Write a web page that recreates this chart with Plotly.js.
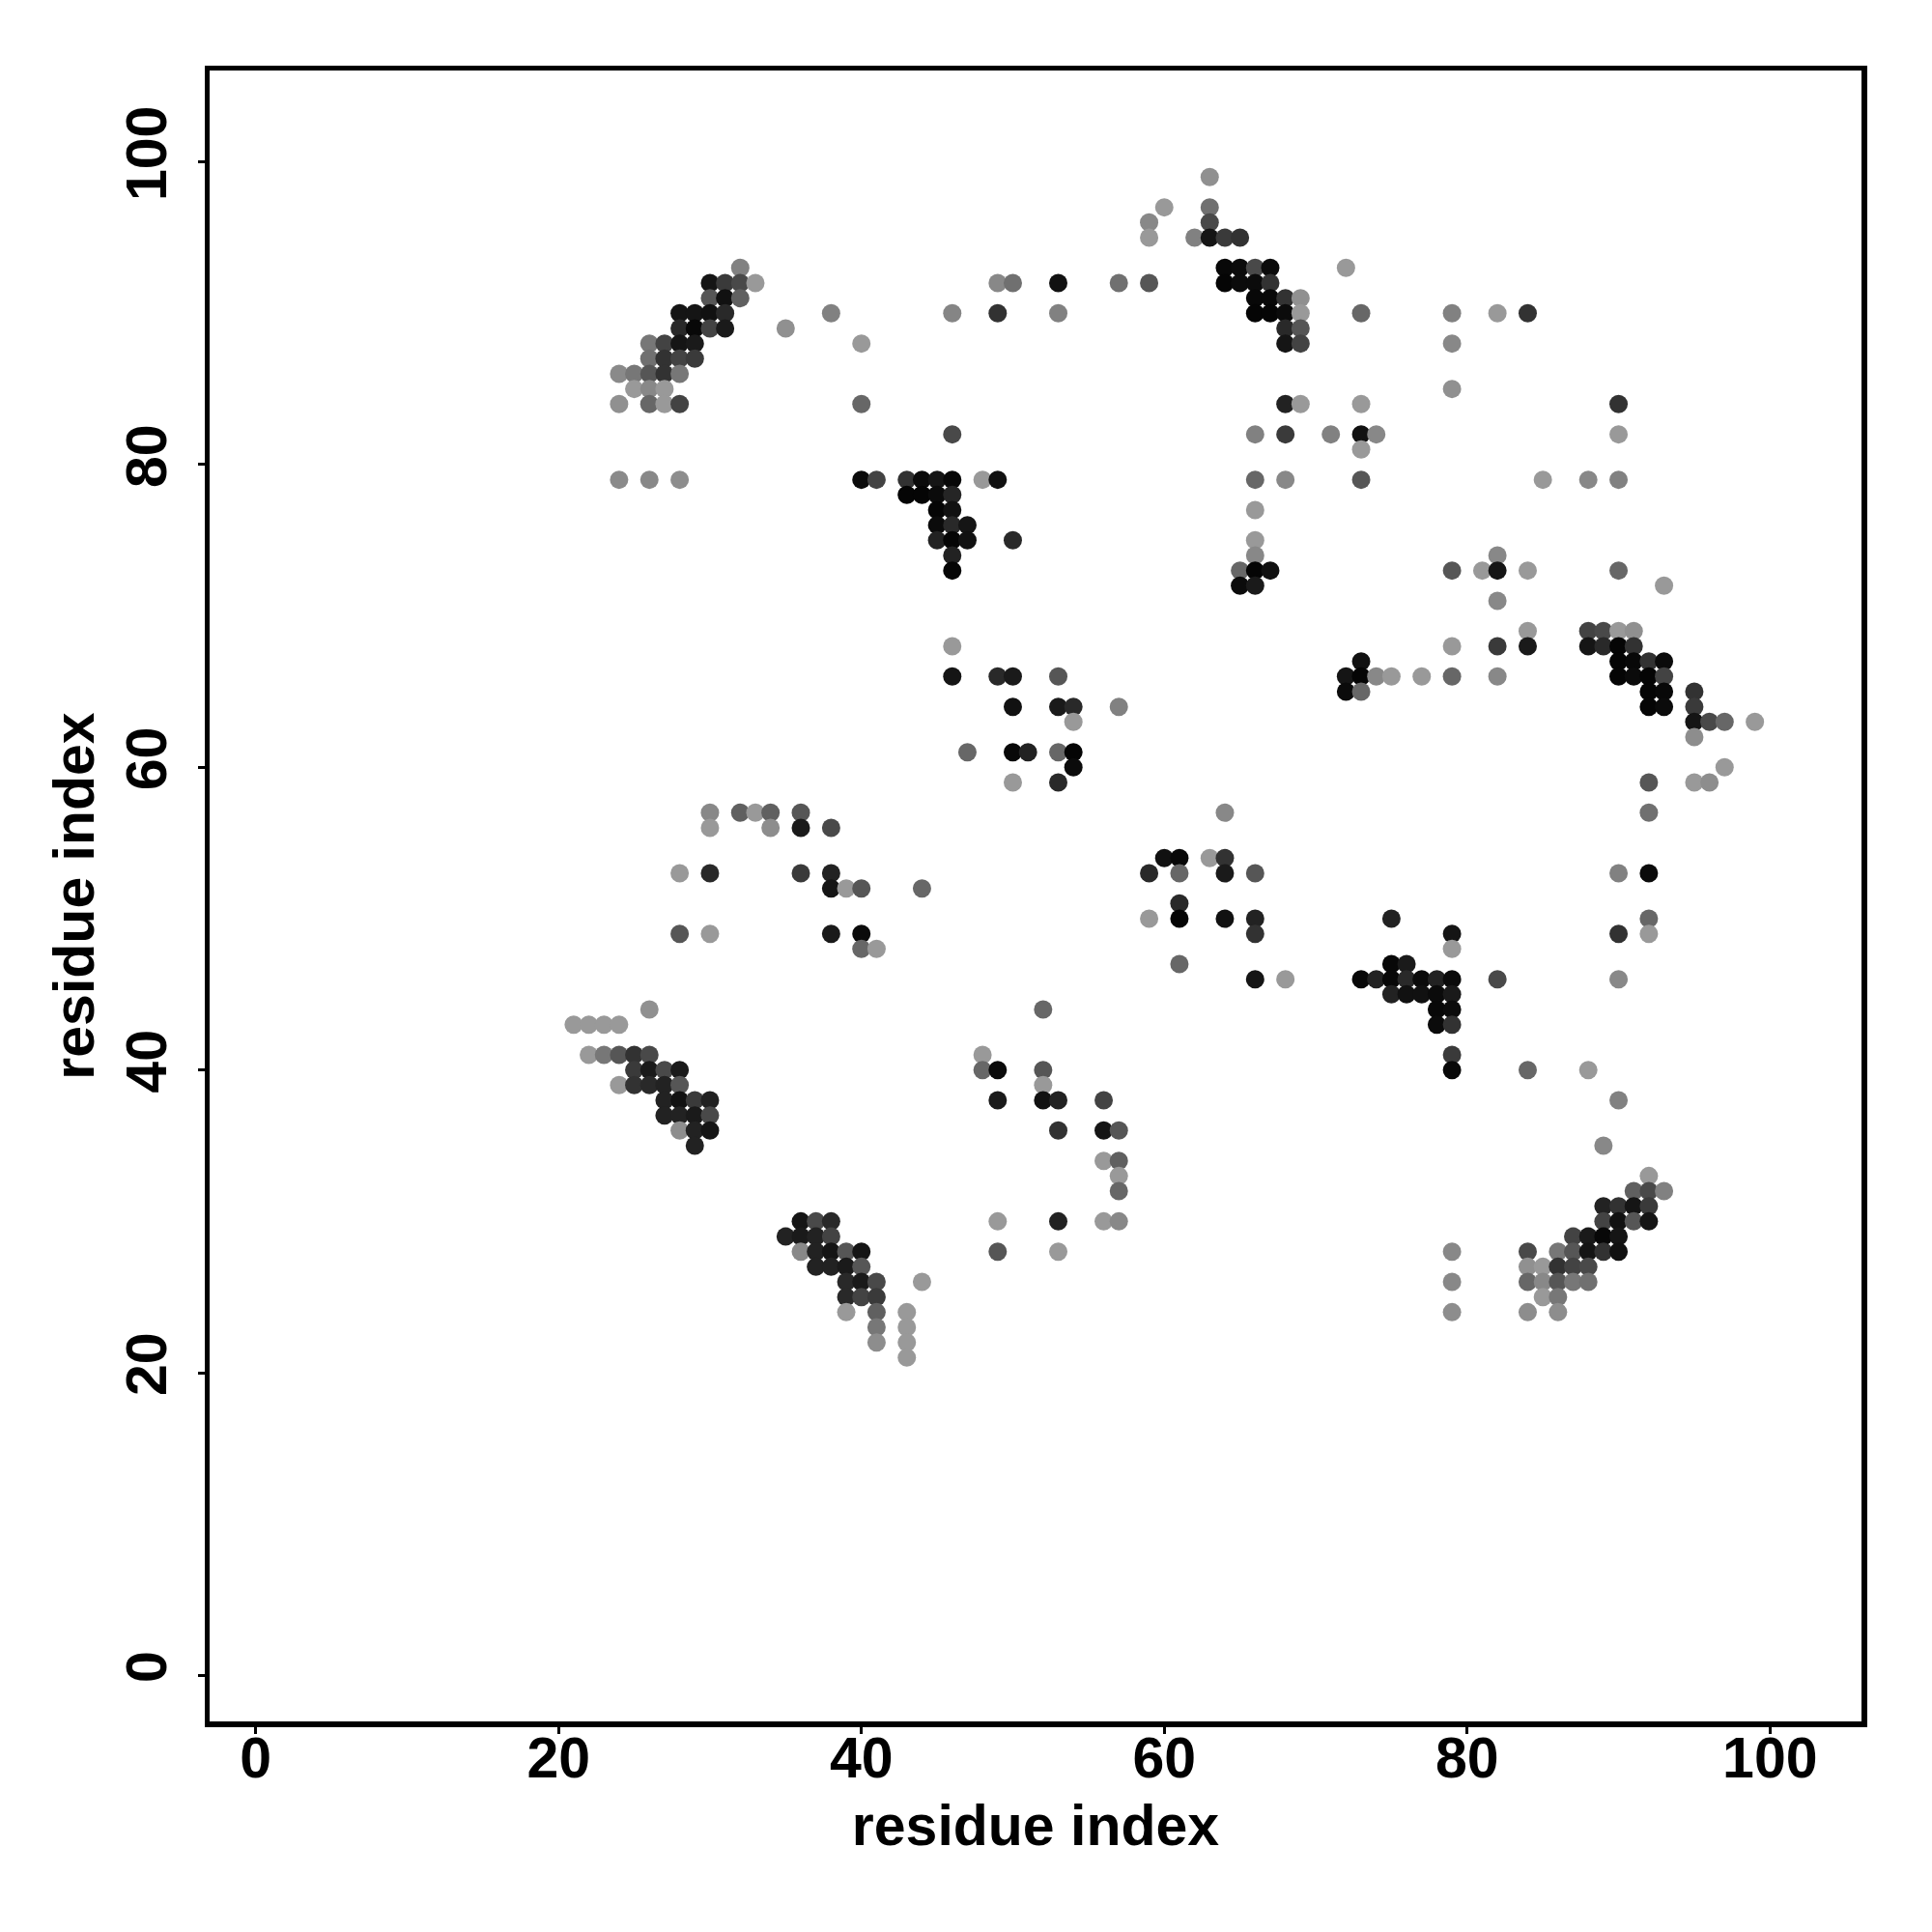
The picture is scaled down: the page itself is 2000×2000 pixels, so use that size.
<!DOCTYPE html>
<html>
<head>
<meta charset="utf-8">
<script src="https://cdn.plot.ly/plotly-3.0.1.min.js"></script>
<style>html,body{margin:0;padding:0;background:#fff;}</style>
</head>
<body>
<div id="chart" style="width:2000px;height:2000px;"></div>
<script>
// Contact map: for each row (residue index j), the partner residues i and contact scores (0 = weak/light, 1 = strong/black)
const rowIndex = [99,97,96,95,93,92,91,90,89,88,87,86,85,84,82,81,79,78,77,76,75,74,73,72,71,69,68,67,66,65,64,63,62,61,60,59,57,56,54,53,52,51,50,49,48,47,46,45,44,43,41,40,39,38,37,36,35,34,33,32,31,30,29,28,27,26,25,24,23,22,21];
const rowResidues = [
  [63],
  [60,63],
  [59,63],
  [59,62,63,64,65],
  [32,64,65,66,67,72],
  [30,31,32,33,49,50,53,57,59,64,65,66,67],
  [30,31,32,66,67,68,69],
  [28,29,30,31,38,46,49,53,66,67,68,69,73,79,82,84],
  [28,29,30,31,35,68,69],
  [26,27,28,29,40,68,69,79],
  [26,27,28,29],
  [24,25,26,27,28],
  [25,26,27,79],
  [24,26,27,28,40,68,69,73,90],
  [46,66,68,71,73,74,90],
  [73],
  [24,26,28,40,41,43,44,45,46,48,49,66,68,73,85,88,90],
  [43,44,45,46],
  [45,46,66],
  [45,46,47],
  [45,46,47,50,66],
  [46,66,82],
  [46,65,66,67,79,81,82,84,90],
  [65,66,93],
  [82],
  [84,88,89,90,91],
  [46,79,82,84,88,89,90,91],
  [73,90,91,92,93],
  [46,49,50,53,72,73,74,75,77,79,82,90,91,92,93],
  [72,73,92,93,95],
  [50,53,54,57,92,93,95],
  [54,95,96,97,99],
  [95],
  [47,50,51,53,54],
  [54,97],
  [50,53,92,95,96],
  [30,32,33,34,36,64,92],
  [30,34,36,38],
  [60,61,63,64],
  [28,30,36,38,59,61,64,66,90,92],
  [38,39,40,44],
  [61],
  [59,61,64,66,75,92],
  [28,30,38,40,66,79,90,92],
  [40,41,79],
  [61,75,76],
  [66,68,73,74,75,76,77,78,79,82,90],
  [75,76,77,78,79],
  [26,52,78,79],
  [21,22,23,24,78,79],
  [22,23,24,25,26,48,79],
  [25,26,27,28,48,49,52,79,84,88],
  [24,25,26,27,28,52],
  [27,28,29,30,49,52,53,56,90],
  [27,28,29,30],
  [28,29,30,53,56,57],
  [29,89],
  [56,57],
  [57,92],
  [57,91,92,93],
  [89,90,91,92],
  [36,37,38,49,53,56,57,89,90,91,92],
  [35,36,37,38,87,88,89,90],
  [36,37,38,39,40,49,53,79,84,86,87,88,89,90],
  [37,38,39,40,84,85,86,87,88],
  [39,40,41,44,79,84,85,86,87,88],
  [39,40,41,85,86],
  [39,41,43,79,84,86],
  [41,43],
  [41,43],
  [43]
];
const rowScores = [
  [.06],
  [0,.27],
  [.11,.52],
  [0,.16,.86,.62,.67],
  [.16,.95,.93,.52,.93,0],
  [.86,.62,.52,0,.11,.27,.89,.27,.44,.97,.93,.93,.67],
  [.44,.89,.37,.95,.95,.67,.06],
  [.86,.86,.89,.73,.16,.13,.67,.16,.97,.97,.93,0,.33,.16,0,.67],
  [.73,.95,.56,.83,.06,.73,.44],
  [.22,.56,.86,.83,0,.86,.56,.11],
  [.27,.67,.56,.62],
  [.10,.22,.44,.67,.22],
  [0,.11,0,.06],
  [.06,.33,0,.56,.33,.78,0,0,.67],
  [.52,.16,.62,.16,.89,.11,0],
  [0],
  [.10,.11,.08,.93,.56,.67,.93,.86,.95,0,.89,.33,.11,.44,0,.11,.16],
  [.97,.97,.93,.76],
  [.97,.89,0],
  [.93,.73,.86],
  [.78,.97,.89,.73,0],
  [.78,.11,.11],
  [.97,.33,.97,.89,.44,0,.86,0,.33],
  [.93,.83,0],
  [.11],
  [0,.56,.52,0,.06],
  [0,0,.62,.83,.86,.73,.97,.67],
  [.89,.97,.95,.67,.93],
  [.86,.73,.83,.44,.86,.97,.11,0,0,.33,.11,.97,.93,.97,.56],
  [.93,.33,.97,.95,.67],
  [.89,.83,.73,.16,.97,.93,.62],
  [0,.86,.52,.33,0],
  [.08],
  [.33,.95,.78,.33,.97],
  [.93,0],
  [0,.73,.44,0,.08],
  [.11,.37,0,.37,.44,.11,.27],
  [0,.08,.83,.52],
  [.89,.95,0,.67],
  [0,.73,.62,.78,.73,.33,.83,.44,.16,.93],
  [.86,0,.44,.33],
  [.73],
  [0,.97,.89,.78,.78,.33],
  [.44,0,.83,.93,.67,.86,.67,0],
  [.33,0,0],
  [.33,.95,.83],
  [.86,0,.95,.78,.95,.73,.93,.78,.93,.52,.11],
  [.78,.89,.89,.93,.83],
  [.06,.33,.95,.93],
  [0,0,0,0,.93,.67],
  [0,.22,.44,.67,.52,0,.62],
  [.62,.83,.52,.83,.33,.93,.44,.95,.33,0],
  [0,.67,.73,.78,.44,0],
  [.78,.89,.62,.78,.83,.89,.78,.56,.16],
  [.78,.78,.83,.52],
  [.08,.78,.86,.67,.86,.44],
  [.78,.11],
  [0,.37],
  [0,0],
  [.33,.37,.52,.16],
  [.78,.67,.86,.62],
  [.86,.52,.73,0,.78,0,.11,.56,.89,.44,.86],
  [.78,.83,.78,.56,.56,.83,.95,.86],
  [.11,.78,.86,.44,.86,.44,0,.11,.52,.22,.44,.86,.67,.89],
  [.78,.78,.83,.44,.06,0,.67,.56,.52],
  [.73,.83,.52,0,.11,.33,.11,.44,.22,.27],
  [.73,.56,.62,0,.22],
  [0,.37,0,.08,.08,.08],
  [.22,0],
  [.08,0],
  [0]
];
const tickValues = [0, 20, 40, 60, 80, 100];
const axisLabel = 'residue index';

// Flatten the table
const xs = [], ys = [], cs = [];
rowIndex.forEach((j, r) => {
  rowResidues[r].forEach((i, k) => {
    xs.push(i); ys.push(j); cs.push(rowScores[r][k]);
  });
});

const fontFam = 'Liberation Sans, Arial, Helvetica, sans-serif';
const tf = {family: fontFam, size: 59, color: '#000', weight: 'bold'};

const trace = {
  type: 'scatter', mode: 'markers',
  x: xs, y: ys,
  marker: {
    size: 19,
    color: cs, cmin: 0, cmax: 1,
    colorscale: [[0, 'rgb(153,153,153)'], [1, 'rgb(0,0,0)']],
    showscale: false,
    line: {width: 0}
  },
  hoverinfo: 'x+y'
};

function axis(extra) {
  return Object.assign({
    range: [-3.04, 106.04],
    tickmode: 'array', tickvals: tickValues,
    showgrid: false, zeroline: false,
    showline: true, mirror: true, linewidth: 5.5, linecolor: '#000',
    ticks: 'outside', ticklen: 7, tickwidth: 3, tickcolor: '#000',
    tickfont: tf, automargin: false,
  }, extra);
}

const layout = {
  width: 2000, height: 2000,
  margin: {l: 217, r: 73, t: 73, b: 218},
  paper_bgcolor: '#fff', plot_bgcolor: '#fff',
  showlegend: false,
  xaxis: axis({ticklabelstandoff: -25, title: {text: axisLabel, font: tf, standoff: 18}}),
  yaxis: axis({tickangle: -90, ticklabelstandoff: 9, title: {text: axisLabel, font: tf, standoff: 4}})
};

Plotly.newPlot('chart', [trace], layout, {displayModeBar: false, staticPlot: true});
</script>
</body>
</html>
